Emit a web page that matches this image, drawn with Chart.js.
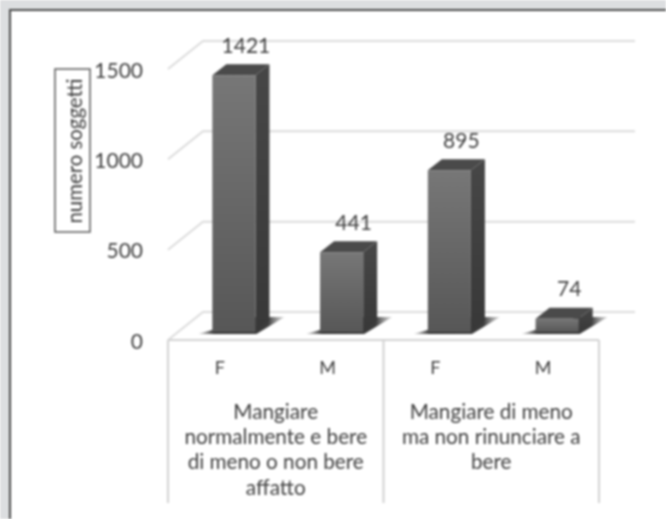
<!DOCTYPE html>
<html><head><meta charset="utf-8">
<script src="https://cdn.jsdelivr.net/npm/chart.js@4"></script>
<style>html,body{margin:0;padding:0;background:#fff;overflow:hidden}canvas{display:block;filter:blur(0.8px)}</style>
</head><body><canvas id="c" width="666" height="519"></canvas>
<script>
const categories = ['F','M','F','M'];
const values = [1421,441,895,74];
const yTicks = [0,500,1000,1500];
const groupLabels = [
  ['Mangiare','normalmente e bere','di meno o non bere','affatto'],
  ['Mangiare di meno','ma non rinunciare a','bere']
];
const axisTitle = 'numero soggetti';
const FONT = 'Lato, sans-serif';
const TEXT = '#404040';

const pseudo3d = {
  id:'pseudo3d',
  beforeDraw(chart){
    const c=chart.ctx;
    c.save();
    c.fillStyle='#dcdee0'; c.fillRect(0,0,666,519);
    c.fillStyle='#fff'; c.fillRect(9,9,657,510);
    c.fillStyle='#4a4a4a'; c.fillRect(9,9,657,2); c.fillRect(9,9,2,510);
    c.restore();
  },
  beforeDatasetsDraw(chart){
    const c=chart.ctx, y=chart.scales.y, a=chart.chartArea;
    const frontX=a.left-12, backX=a.left+23, endX=a.right+24;
    c.save();
    c.strokeStyle='#dcdcdc'; c.lineWidth=2;
    yTicks.forEach(v=>{
      const p=y.getPixelForValue(v);
      c.beginPath();
      c.moveTo(frontX,p+8); c.lineTo(backX,p-20); c.lineTo(endX,p-20);
      c.stroke();
    });
    // front floor edge and group dividers
    const fy=y.getPixelForValue(0)+8, bottom=503;
    c.strokeStyle='#d2d2d2';
    c.beginPath();
    c.moveTo(frontX,fy); c.lineTo(a.right-12,fy);
    [frontX,(frontX+a.right-12)/2,a.right-12].forEach(px=>{c.moveTo(px,fy);c.lineTo(px,bottom);});
    c.stroke();
    // floor shadows and side faces
    const m=chart.getDatasetMeta(0);
    m.data.forEach(b=>{
      const l=b.x-b.width/2, r=b.x+b.width/2, base=b.base;
      const g=c.createLinearGradient(l-14,0,r+30,0);
      g.addColorStop(0,'rgba(90,90,90,0.25)');
      g.addColorStop(0.18,'rgba(40,40,40,0.95)');
      g.addColorStop(0.8,'rgba(50,50,50,0.95)');
      g.addColorStop(1,'rgba(130,130,130,0.25)');
      c.fillStyle=g;
      c.beginPath();
      c.moveTo(l-14,base+2); c.lineTo(r+1,base+2); c.lineTo(r+29,base-15); c.lineTo(r,base-15); c.closePath();
      c.fill();
      // side face
      const sg=c.createLinearGradient(0,b.y-11,0,base);
      sg.addColorStop(0,'#474747'); sg.addColorStop(1,'#383838');
      c.fillStyle=sg;
      c.beginPath();
      c.moveTo(r,base); c.lineTo(r+14,base-11); c.lineTo(r+14,b.y-11); c.lineTo(r,b.y); c.closePath();
      c.fill();
      // top face
      c.fillStyle='#4a4a4a';
      c.beginPath();
      c.moveTo(l,b.y); c.lineTo(l+14,b.y-11); c.lineTo(r+14,b.y-11); c.lineTo(r,b.y); c.closePath();
      c.fill();
    });
    c.restore();
  },
  afterDatasetsDraw(chart){
    const c=chart.ctx;
    const m=chart.getDatasetMeta(0);
    c.save();
    c.fillStyle=TEXT; c.textAlign='center'; c.textBaseline='middle';
    c.font='21px '+FONT;
    m.data.forEach((b,i)=>c.fillText(String(values[i]),b.x+12,b.y-29));
    // group labels
    c.font='20.7px '+FONT;
    const a=chart.chartArea, left=a.left-12, w=(a.right-a.left)/2;
    groupLabels.forEach((lines,g)=>{
      lines.forEach((t,j)=>c.fillText(t,left+w*(g+0.5),412+j*25.3));
    });
    // axis title box
    c.fillStyle='#fff'; c.strokeStyle='#5a5a5a'; c.lineWidth=1.5;
    c.fillRect(55,69,35,163); c.strokeRect(55,69,35,163);
    c.translate(75,151); c.rotate(-Math.PI/2);
    c.fillStyle=TEXT; c.font='20.4px '+FONT;
    c.fillText(axisTitle,0,0);
    c.restore();
  }
};

new Chart(document.getElementById('c'),{
  type:'bar',
  data:{labels:categories,datasets:[{data:values,
    backgroundColor(ctx){
      const chart=ctx.chart, s=chart.scales.y;
      if(!chart.chartArea||!s||ctx.raw===undefined) return '#666';
      const g=chart.ctx.createLinearGradient(0,s.getPixelForValue(ctx.raw),0,s.getPixelForValue(0));
      g.addColorStop(0,'#777777'); g.addColorStop(1,'#575757');
      return g;
    },
    borderWidth:0,barPercentage:0.4,categoryPercentage:1}]},
  options:{
    responsive:false,animation:false,devicePixelRatio:1,
    layout:{padding:{left:0,right:55,top:61,bottom:0}},
    plugins:{legend:{display:false},title:{display:false},tooltip:{enabled:false}},
    scales:{
      y:{min:0,max:1500,
        afterFit(s){s.width=180;},
        afterBuildTicks(s){s.ticks=yTicks.map(v=>({value:v}));},
        grid:{display:false},border:{display:false},
        ticks:{color:TEXT,font:{family:FONT,size:21},padding:29,labelOffset:10,
          callback(v){return String(v);}}},
      x:{afterFit(s){s.height=187;},
        grid:{display:false},border:{display:false},
        ticks:{color:TEXT,font:{family:FONT,size:18},padding:17,labelOffset:-14,maxRotation:0}}
    }
  },
  plugins:[pseudo3d]
});
</script></body></html>
